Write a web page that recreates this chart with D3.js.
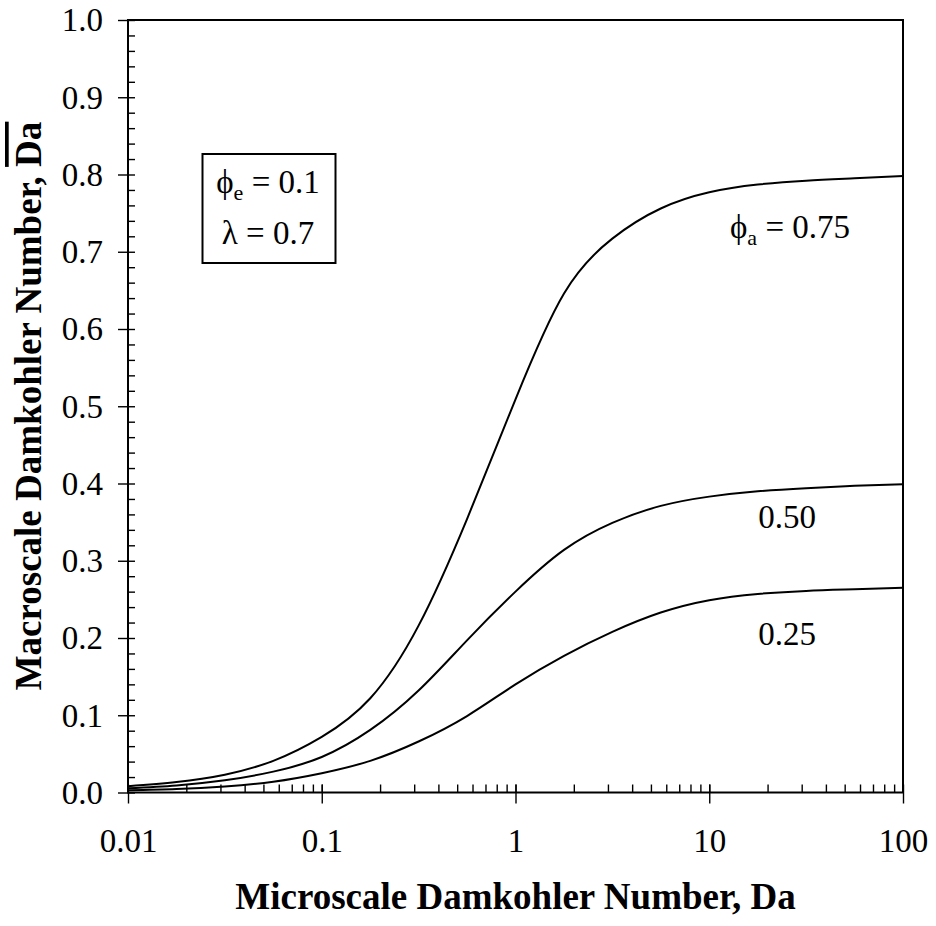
<!DOCTYPE html>
<html>
<head>
<meta charset="utf-8">
<script src="https://cdn.jsdelivr.net/npm/d3@7"></script>
<style>
  html, body { margin: 0; padding: 0; background: #fff; }
  svg { display: block; }
</style>
</head>
<body>
<svg id="chart" width="936" height="926" font-family="Liberation Serif"></svg>
<script>
// ---- data (x at quarter-decade steps) ----
const daMicro = [0.01, 0.0178, 0.0316, 0.0562, 0.1, 0.178, 0.316, 0.562, 1, 1.78, 3.16, 5.62, 10, 17.8, 31.6, 56.2, 100];
const daPhi075 = [0.0082, 0.0135, 0.023, 0.041, 0.072, 0.122, 0.216, 0.354, 0.509, 0.646, 0.717, 0.756, 0.777, 0.787, 0.792, 0.795, 0.798];
const daPhi050 = [0.0056, 0.0092, 0.0158, 0.027, 0.046, 0.081, 0.132, 0.197, 0.260, 0.314, 0.349, 0.371, 0.383, 0.390, 0.394, 0.397, 0.399];
const daPhi025 = [0.0030, 0.0046, 0.0079, 0.014, 0.025, 0.041, 0.066, 0.099, 0.140, 0.177, 0.208, 0.233, 0.249, 0.257, 0.261, 0.263, 0.265];
const seriesNames = ["0.75", "0.50", "0.25"];
const xTickValues = [0.01, 0.1, 1, 10, 100];
const xTickLabels = ["0.01", "0.1", "1", "10", "100"];
const yTickValues = [0, 0.1, 0.2, 0.3, 0.4, 0.5, 0.6, 0.7, 0.8, 0.9, 1.0];
const yTickLabels = ["0.0", "0.1", "0.2", "0.3", "0.4", "0.5", "0.6", "0.7", "0.8", "0.9", "1.0"];
const xTitle = "Microscale Damkohler Number, Da";
const yTitle = "Macroscale Damkohler Number, ";
const yTitleBar = "Da";

// ---- layout ----
const FONT = "Liberation Serif";
const L = 128, R = 903, T = 20, B = 792.5;
const svg = d3.select("#chart");
const x = d3.scaleLog().domain([0.01, 100]).range([L, R]);
const y = d3.scaleLinear().domain([0, 1]).range([B, T]);
const FS = 33;

// minor ticks
const yMinor = d3.range(0, 51).map(i => i / 50);
const xMinor = [];
[0.01, 0.1, 1, 10].forEach(d => { for (let k = 1; k <= 10; k++) xMinor.push(d * k); });

const gy = svg.append("g").attr("transform", `translate(${L},0)`)
  .call(d3.axisLeft(y).tickValues(yTickValues).tickFormat((d, i) => yTickLabels[i]).tickSize(10).tickPadding(15));
const gy2 = svg.append("g").attr("transform", `translate(${L},0)`)
  .call(d3.axisRight(y).tickValues(yMinor).tickFormat("").tickSize(7).tickSizeOuter(0));
const gx = svg.append("g").attr("transform", `translate(0,${B})`)
  .call(d3.axisBottom(x).tickValues(xTickValues).tickFormat((d, i) => xTickLabels[i]).tickSize(11).tickPadding(25));
const gx2 = svg.append("g").attr("transform", `translate(0,${B})`)
  .call(d3.axisTop(x).tickValues(xMinor).tickFormat("").tickSize(8).tickSizeOuter(0));

[gy, gy2, gx, gx2].forEach(g => {
  g.attr("font-family", FONT).attr("font-size", FS);
  g.select(".domain").remove();
  g.selectAll(".tick line").attr("stroke", "#000").attr("stroke-width", 1.4);
  g.selectAll(".tick text").attr("font-family", FONT).attr("font-size", FS).attr("fill", "#000");
});
gy.selectAll(".tick text").attr("dy", "0.33em");
gx.selectAll(".tick text").attr("dy", "0.71em");

// frame
svg.append("rect").attr("x", L).attr("y", T).attr("width", R - L).attr("height", B - T)
  .attr("fill", "none").attr("stroke", "#000").attr("stroke-width", 2);

// curves
const line = d3.line().x((d, i) => x(daMicro[i])).y(d => y(d)).curve(d3.curveNatural);
[daPhi075, daPhi050, daPhi025].forEach(s => {
  svg.append("path").attr("d", line(s)).attr("fill", "none").attr("stroke", "#000").attr("stroke-width", 2);
});

function txt(xp, yp, anchor, size) {
  return svg.append("text").attr("x", xp).attr("y", yp).attr("text-anchor", anchor)
    .attr("font-family", FONT).attr("font-size", size).attr("fill", "#000");
}

// curve labels
const lab1 = txt(850, 238, "end", FS);
lab1.append("tspan").text("\u03D5");
lab1.append("tspan").attr("dy", 7).attr("font-size", 22).text("a");
lab1.append("tspan").attr("dy", -7).text(" = " + seriesNames[0]);
txt(787, 528, "middle", FS).text(seriesNames[1]);
txt(787, 645, "middle", FS).text(seriesNames[2]);

// parameter box
svg.append("rect").attr("x", 202.5).attr("y", 154).attr("width", 133).attr("height", 109)
  .attr("fill", "none").attr("stroke", "#000").attr("stroke-width", 2);
const p1 = txt(268, 193, "middle", FS);
p1.append("tspan").text("\u03D5");
p1.append("tspan").attr("dy", 7).attr("font-size", 22).text("e");
p1.append("tspan").attr("dy", -7).text(" = 0.1");
txt(268, 244, "middle", FS).text("\u03BB = 0.7");

// axis titles
txt(515.5, 909, "middle", 37).attr("font-weight", "bold").text(xTitle);
const yt = svg.append("text").attr("transform", "translate(41,406) rotate(-90)").attr("text-anchor", "middle")
  .attr("font-family", FONT).attr("font-size", 37).attr("font-weight", "bold").attr("fill", "#000");
yt.append("tspan").text(yTitle);
yt.append("tspan").style("text-decoration", "overline").text(yTitleBar);
</script>
</body>
</html>
